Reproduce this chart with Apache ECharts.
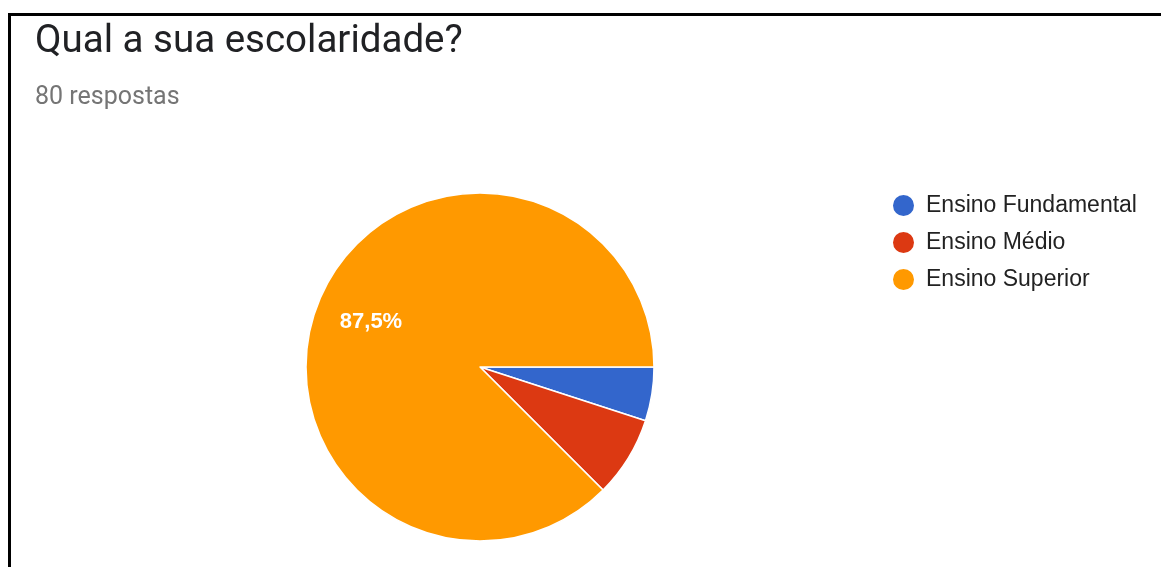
<!DOCTYPE html>
<html>
<head>
<meta charset="utf-8">
<script src="https://cdn.jsdelivr.net/npm/echarts@6/dist/echarts.min.js"></script>
<style>
html,body{margin:0;padding:0;background:#fff;}
#frame{position:absolute;left:8px;top:13px;width:1200px;height:600px;border-left:3px solid #000;border-top:3px solid #000;}
#chart{position:absolute;left:0;top:0;width:1161px;height:567px;}
</style>
</head>
<body>
<div id="frame"></div>
<div id="chart"></div>
<script>
const titleText = "Qual a sua escolaridade?";
const subtitleText = "80 respostas";
const categories = ["Ensino Fundamental", "Ensino Médio", "Ensino Superior"];
const counts = [4, 6, 70];
const colors = ["#3366cc", "#dc3912", "#ff9900"];
const labelledCategories = ["Ensino Superior"];

const chart = echarts.init(document.getElementById('chart'), null, {renderer: 'canvas'});
const pieData = categories.map((c, i) => ({name: c, value: counts[i], itemStyle: {color: colors[i]}}));
const fmt = p => p.percent.toFixed(1).replace('.', ',') + '%';

chart.setOption({
  animation: false,
  title: [
    {text: titleText, left: 30, top: 18, textStyle: {fontFamily: 'Roboto', fontSize: 38.5, fontWeight: 'normal', color: '#202124'}},
    {text: subtitleText, left: 30, top: 80, textStyle: {fontFamily: 'Roboto', fontSize: 25, fontWeight: 'normal', color: '#757575'}}
  ],
  legend: {
    orient: 'vertical', left: 886, top: 188, icon: 'circle', itemWidth: 23, itemHeight: 23, itemGap: 12,
    textStyle: {fontFamily: 'Arial, Liberation Sans', fontSize: 23, lineHeight: 23, color: '#222', padding: [0, 0, 0, 6]},
    data: categories
  },
  series: [
    {
      type: 'pie', center: [480, 367], radius: [0, 174], startAngle: 0, clockwise: true,
      data: pieData, label: {show: false}, labelLine: {show: false},
      itemStyle: {borderColor: '#fff', borderWidth: 1.5}, emphasis: {disabled: true}
    },
    {
      type: 'pie', center: [480, 367], radius: [56, 174], startAngle: 0, clockwise: true, silent: true,
      legendHoverLink: false,
      data: categories.map((c, i) => ({name: c + ' ', value: counts[i], itemStyle: {color: 'rgba(0,0,0,0)'},
        label: {show: labelledCategories.includes(c)}})),
      label: {position: 'inside', formatter: fmt, color: '#fff', fontFamily: 'Arial, Liberation Sans', fontSize: 22, fontWeight: 'bold'},
      labelLine: {show: false}, emphasis: {disabled: true}
    }
  ]
});
</script>
</body>
</html>
